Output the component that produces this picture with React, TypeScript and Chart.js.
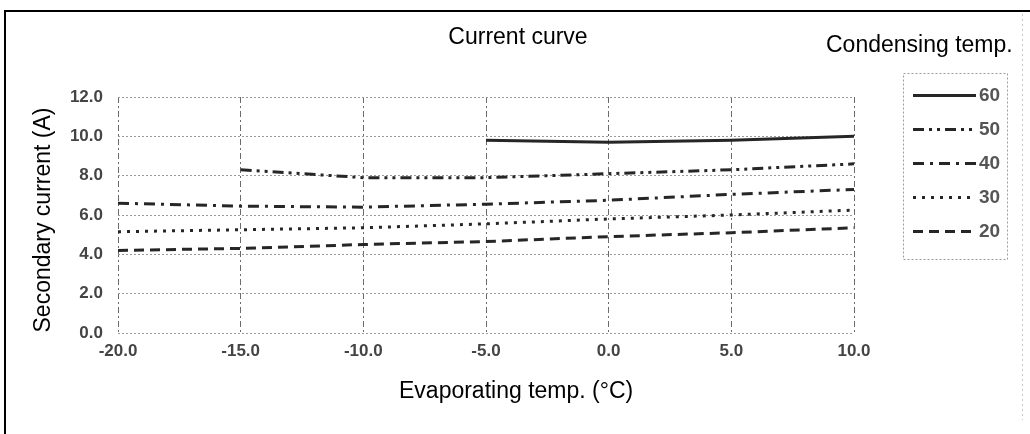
import React, { useEffect, useRef } from "react";
import { Chart, registerables } from "chart.js";

Chart.register(...registerables);

// ---- data ----
const evapTemps = [-20, -15, -10, -5, 0, 5, 10];
const condensingTemps = ["60", "50", "40", "30", "20"];
const current60 = [null, null, null, 9.8, 9.7, 9.8, 10.0];
const current50 = [null, 8.3, 7.9, 7.9, 8.1, 8.3, 8.6];
const current40 = [6.6, 6.45, 6.4, 6.55, 6.75, 7.05, 7.3];
const current30 = [5.15, 5.25, 5.35, 5.55, 5.8, 6.0, 6.25];
const current20 = [4.2, 4.3, 4.5, 4.65, 4.9, 5.1, 5.35];
const xRange = [-20, 10];
const yRange = [0, 12];

const chartTitle = "Current curve";
const legendTitle = "Condensing temp.";
const xTitle = "Evaporating temp. (°C)";
const yTitle = "Secondary current (A)";

const seriesValues = [current60, current50, current40, current30, current20];

const lineDashes: number[][] = [[], [11, 5, 3, 5, 3, 5], [11, 6, 3, 6], [3, 6], [10, 6]];

const SANS = '"Liberation Sans", Arial, Helvetica, sans-serif';

const overlayPlugin = {
  id: "overlay",
  beforeDraw(chart: any) {
    const ctx = chart.ctx;
    ctx.save();
    ctx.fillStyle = "#ffffff";
    ctx.fillRect(0, 0, chart.width, chart.height);
    ctx.restore();
  },
  afterDraw(chart: any) {
    const ctx = chart.ctx;
    ctx.save();
    // scan frame
    ctx.fillStyle = "#000";
    ctx.fillRect(4, 10, chart.width - 4, 2);
    ctx.fillRect(4, 10, 2, chart.height - 10);
    // faint scan edge at right
    ctx.strokeStyle = "#c8c8c8";
    ctx.lineWidth = 1;
    ctx.setLineDash([2, 3]);
    ctx.beginPath();
    ctx.moveTo(1022.5, 14);
    ctx.lineTo(1022.5, 420);
    ctx.stroke();
    ctx.setLineDash([]);

    // titles
    ctx.fillStyle = "#000";
    ctx.font = `23px ${SANS}`;
    ctx.textBaseline = "alphabetic";
    ctx.textAlign = "center";
    ctx.fillText(chartTitle, 518, 44);
    ctx.textAlign = "left";
    ctx.fillText(legendTitle, 826, 52);
    ctx.fillText(xTitle, 399, 398);
    ctx.save();
    ctx.translate(50, 220);
    ctx.rotate(-Math.PI / 2);
    ctx.textAlign = "center";
    ctx.fillText(yTitle, 0, 0);
    ctx.restore();

    // legend box
    ctx.strokeStyle = "#9a9a9a";
    ctx.lineWidth = 1;
    ctx.setLineDash([2, 2]);
    ctx.strokeRect(903.5, 73.5, 104, 186);
    ctx.setLineDash([]);

    const rows = [95, 129, 163, 197, 231];
    chart.data.datasets.forEach((ds: any, i: number) => {
      const y = rows[i];
      ctx.strokeStyle = ds.borderColor;
      ctx.lineWidth = ds.borderWidth;
      ctx.setLineDash(ds.borderDash || []);
      ctx.beginPath();
      ctx.moveTo(913, y + 0.5);
      ctx.lineTo(976, y + 0.5);
      ctx.stroke();
      ctx.setLineDash([]);
      ctx.fillStyle = "#555";
      ctx.font = `bold 19px ${SANS}`;
      ctx.textAlign = "left";
      ctx.textBaseline = "middle";
      ctx.fillText(ds.label, 979, y + 1);
    });
    ctx.restore();
  },
};

export default function App() {
  const canvasRef = useRef<HTMLCanvasElement | null>(null);

  useEffect(() => {
    const canvas = canvasRef.current;
    if (!canvas) return;
    const datasets = condensingTemps.map((label, i) => ({
      label,
      data: evapTemps.map((x, j) => ({ x, y: seriesValues[i][j] })),
      borderColor: "#262626",
      borderWidth: 3,
      borderDash: lineDashes[i],
      pointRadius: 0,
      fill: false,
      tension: 0,
      spanGaps: false,
    }));

    const chart = new Chart(canvas, {
      type: "line",
      data: { datasets },
      options: {
        animation: false,
        responsive: false,
        maintainAspectRatio: false,
        layout: { padding: { left: 0, top: 97, right: 176, bottom: 0 } },
        plugins: {
          legend: { display: false },
          title: { display: false },
          tooltip: { enabled: false },
        },
        scales: {
          x: {
            type: "linear",
            min: xRange[0],
            max: xRange[1],
            afterFit: (scale: any) => {
              scale.height = 101;
            },
            ticks: {
              stepSize: 5,
              padding: 8,
              color: "#444",
              font: { family: SANS, size: 17, weight: "bold" },
              callback: (v: any) => Number(v).toFixed(1),
            },
            grid: { color: "#6a6a6a", lineWidth: 1, drawTicks: false },
            border: { display: false, dash: [6, 3, 2, 3] },
          },
          y: {
            type: "linear",
            min: yRange[0],
            max: yRange[1],
            afterFit: (scale: any) => {
              scale.width = 118;
            },
            ticks: {
              stepSize: 2,
              padding: 15,
              color: "#444",
              font: { family: SANS, size: 17, weight: "bold" },
              callback: (v: any) => Number(v).toFixed(1),
            },
            grid: { color: "#9a9a9a", lineWidth: 1, drawTicks: false },
            border: { display: false, dash: [2, 2] },
          },
        },
      },
      plugins: [overlayPlugin],
    });
    return () => chart.destroy();
  }, []);

  return (
    <div style={{ position: "absolute", left: 0, top: 0, width: 1030, height: 434 }}>
      <canvas ref={canvasRef} width={1030} height={434} style={{ display: "block" }} />
    </div>
  );
}
